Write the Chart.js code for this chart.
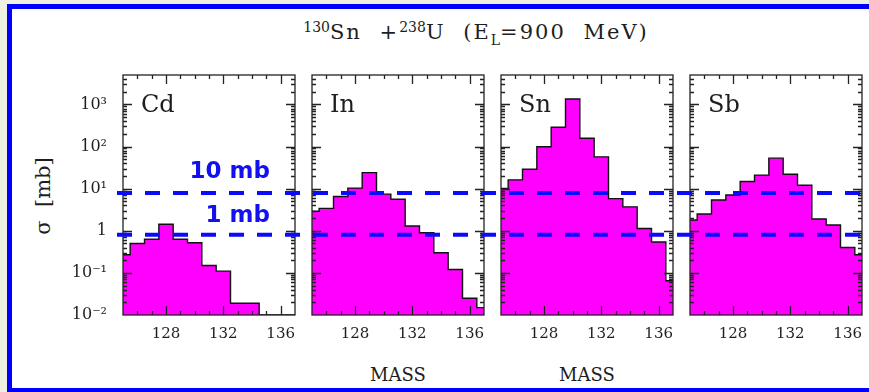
<!DOCTYPE html>
<html>
<head>
<meta charset="utf-8">
<script src="https://cdn.jsdelivr.net/npm/chart.js@4.4.1/dist/chart.umd.min.js"></script>
<style>
  html, body { margin: 0; padding: 0; }
  body { position: relative; width: 869px; height: 392px; overflow: hidden; background: #eef1e2; }
  #frame { position: absolute; left: 7px; top: 4px; width: 900px; height: 379px; border: 5px solid #0000ff; background: #fff; }
  canvas { position: absolute; }
  .txt { position: absolute; font-family: 'DejaVu Serif', serif; color: #1e1e1e; white-space: nowrap; line-height: 1; }
  .title { left: 476px; top: 20px; font-size: 21px; transform: translateX(-50%); letter-spacing: 2px; word-spacing: 9px; }
  .title sup { font-size: 14px; vertical-align: 7px; letter-spacing: 0; }
  .title sub { font-size: 14px; vertical-align: -6px; letter-spacing: 0; }
  .name { font-size: 24px; top: 92px; }
  .mass { font-size: 18px; top: 366px; transform: translateX(-50%); }
  .ylab { font-size: 21px; left: 43px; top: 196px; transform: translate(-50%, -50%) rotate(-90deg); }
  .mb { position: absolute; font-family: 'DejaVu Sans', sans-serif; font-weight: bold; font-size: 23px; color: #1010f0; right: 599px; line-height: 1; white-space: nowrap; }
</style>
</head>
<body>
<div id="frame"></div>
<canvas id="c0"></canvas>
<canvas id="c1"></canvas>
<canvas id="c2"></canvas>
<canvas id="c3"></canvas>

<div class="txt title"><sup>130</sup>Sn +<sup>238</sup>U (E<sub>L</sub>=900 MeV)</div>
<div class="txt ylab">σ&nbsp;&nbsp;[mb]</div>
<div class="txt mass" style="left:398px">MASS</div>
<div class="txt mass" style="left:587px">MASS</div>
<div class="mb" style="top:159px">10 mb</div>
<div class="mb" style="top:203px">1 mb</div>

<script>
// mass number of each bin (bins are 1 unit wide, centred on the integer)
const MASSES = [125, 126, 127, 128, 129, 130, 131, 132, 133, 134, 135, 136, 137];

// cross sections in mb (0 = nothing drawn)
const CD = [0.27, 0.50, 0.63, 1.43, 0.63, 0.52, 0.15, 0.11, 0.019, 0.019, 0, 0, 0];
const IN = [2.9, 3.4, 6.5, 10.3, 24, 7.4, 5.6, 1.3, 0.9, 0.30, 0.12, 0.025, 0.015];
const SN = [10.1, 16.2, 29, 99, 287, 1350, 157, 57, 5.8, 3.7, 1.13, 0.54, 0.065];
const SB = [1.8, 2.5, 5.4, 7.1, 14.8, 21, 53, 22, 12.1, 1.9, 1.37, 0.40, 0.27];

const SERIES = [CD, IN, SN, SB];
const PANEL_NAMES = ['Cd', 'In', 'Sn', 'Sb'];

const X_TICKS = [128, 132, 136];
const Y_TICK_VALUES = [0.01, 0.1, 1, 10, 100, 1000];
const Y_TICK_LABELS = ['10⁻²', '10⁻¹', '1', '10¹', '10²', '10³'];

// the two dashed guide lines ("10 mb" and "1 mb") as drawn on the slide
const REF_LINES = [7.9, 0.8];

const X_MIN = 125, X_MAX = 137;
const Y_MIN = 0.01, Y_MAX = 5000;

// layout of the four panels on the page
const CANVAS_EDGES = [60, 304, 493, 681, 869];
const PANEL_LEFT = [123, 312, 501, 690];
const PANEL_W = 172;
const CANVAS_TOP = 65, CANVAS_H = 290;
const DASH_START = 117;

// histogram outline as points on the bin edges
function stepPoints(values) {
  const pts = MASSES.map((m, i) => ({ x: m - 0.5, y: values[i] > 0 ? values[i] : Y_MIN }));
  const last = values.length - 1;
  pts.push({ x: MASSES[last] + 0.5, y: values[last] > 0 ? values[last] : Y_MIN });
  return pts;
}

function yLabel(v) {
  const i = Y_TICK_VALUES.findIndex(t => Math.abs(t - v) < t * 1e-6);
  return i < 0 ? '' : Y_TICK_LABELS[i];
}

// box around each panel with inward tick marks on all sides
const framePlugin = {
  id: 'frame',
  afterDatasetsDraw(chart) {
    const { ctx, chartArea: a, scales: { x, y } } = chart;
    ctx.save();
    ctx.strokeStyle = '#222';
    ctx.lineWidth = 1.3;
    ctx.strokeRect(a.left, a.top, a.right - a.left, a.bottom - a.top);
    ctx.beginPath();
    for (let m = X_MIN + 1; m < X_MAX; m++) {
      const px = Math.round(x.getPixelForValue(m)) + 0.5;
      const len = X_TICKS.includes(m) ? 9 : 4;
      ctx.moveTo(px, a.bottom); ctx.lineTo(px, a.bottom - len);
      ctx.moveTo(px, a.top); ctx.lineTo(px, a.top + len);
    }
    for (let e = -2; e <= 3; e++) {
      for (let k = 1; k <= 9; k++) {
        const v = k * Math.pow(10, e);
        if (v <= Y_MIN * 1.0001 || v >= Y_MAX) continue;
        const py = Math.round(y.getPixelForValue(v)) + 0.5;
        const len = k === 1 ? 9 : 4;
        ctx.moveTo(a.left, py); ctx.lineTo(a.left + len, py);
        ctx.moveTo(a.right, py); ctx.lineTo(a.right - len, py);
      }
    }
    ctx.stroke();
    ctx.restore();
  }
};

// blue dashed guide lines running across all panels
const refLinePlugin = {
  id: 'refLines',
  afterDraw(chart, args, opts) {
    const { ctx, scales: { y } } = chart;
    ctx.save();
    ctx.strokeStyle = '#0a0aff';
    ctx.lineWidth = 4;
    ctx.setLineDash([15, 13]);
    ctx.lineDashOffset = opts.pageLeft + opts.from - DASH_START;
    REF_LINES.forEach(v => {
      const py = y.getPixelForValue(v);
      ctx.beginPath();
      ctx.moveTo(opts.from, py);
      ctx.lineTo(opts.to, py);
      ctx.stroke();
    });
    ctx.restore();
  }
};

function makePanel(i) {
  const cv = document.getElementById('c' + i);
  const left = CANVAS_EDGES[i], right = CANVAS_EDGES[i + 1];
  cv.width = right - left;
  cv.height = CANVAS_H;
  cv.style.left = left + 'px';
  cv.style.top = CANVAS_TOP + 'px';
  const first = i === 0;
  const leftSpace = PANEL_LEFT[i] - left;

  const name = document.createElement('div');
  name.className = 'txt name';
  name.style.left = (PANEL_LEFT[i] + 18) + 'px';
  name.textContent = PANEL_NAMES[i];
  document.body.appendChild(name);

  return new Chart(cv, {
    type: 'line',
    data: {
      datasets: [{
        label: PANEL_NAMES[i],
        data: stepPoints(SERIES[i]),
        stepped: 'before',
        fill: 'start',
        backgroundColor: '#ff00ff',
        borderColor: '#111',
        borderWidth: 1.4,
        pointRadius: 0
      }]
    },
    options: {
      responsive: false,
      animation: false,
      devicePixelRatio: 1,
      layout: {
        padding: { left: first ? 0 : leftSpace, right: right - PANEL_LEFT[i] - PANEL_W, top: 10, bottom: 0 }
      },
      plugins: {
        legend: { display: false },
        tooltip: { enabled: false },
        refLines: { pageLeft: left, from: first ? DASH_START - left : 0, to: i === 3 ? 864 - left : right - left }
      },
      scales: {
        x: {
          type: 'linear',
          min: X_MIN,
          max: X_MAX,
          grid: { display: false },
          border: { display: false },
          ticks: {
            stepSize: 1,
            autoSkip: false,
            maxRotation: 0,
            padding: 2,
            color: '#1e1e1e',
            font: { family: 'DejaVu Serif', size: 15 },
            callback: v => X_TICKS.includes(v) ? String(v) : ''
          },
          afterFit: s => { s.height = 40; s.paddingLeft = 0; s.paddingRight = 0; }
        },
        y: {
          type: 'logarithmic',
          display: first,
          min: Y_MIN,
          max: Y_MAX,
          grid: { display: false },
          border: { display: false },
          ticks: {
            autoSkip: false,
            padding: 8,
            color: '#1e1e1e',
            font: { family: 'DejaVu Serif', size: 16 },
            callback: v => yLabel(v)
          },
          afterFit: s => { s.width = first ? leftSpace : 0; s.paddingTop = 0; s.paddingBottom = 0; }
        }
      }
    },
    plugins: [framePlugin, refLinePlugin]
  });
}

[0, 1, 2, 3].forEach(makePanel);
</script>
</body>
</html>
